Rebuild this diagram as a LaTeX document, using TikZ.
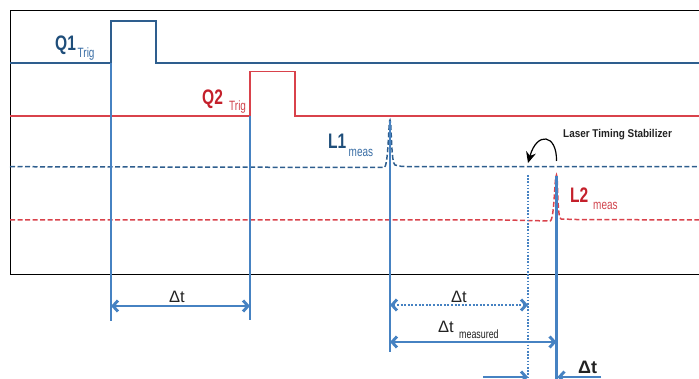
\documentclass[tikz,border=0pt]{standalone}
\usepackage{fontspec}
\setmainfont{Liberation Sans}
\newfontfamily\cond[FakeStretch=0.74]{Liberation Sans}
\newfontfamily\condb[FakeStretch=0.88]{Liberation Sans}
\usetikzlibrary{arrows.meta}
\definecolor{qblue}{HTML}{2E5E8E}
\definecolor{tblue}{HTML}{1F4E7A}
\definecolor{sblue}{HTML}{3A6EA5}
\definecolor{vblue}{HTML}{4682C2}
\definecolor{qred}{HTML}{D9424B}
\definecolor{tred}{HTML}{C4202B}
\definecolor{sred}{HTML}{D0434C}
\definecolor{dgray}{HTML}{222222}
\begin{document}
\begin{tikzpicture}[x=1pt,y=-1pt,
  frame/.style={draw=black,line width=0.9pt},
  qone/.style={draw=qblue,line width=1.6pt},
  qtwo/.style={draw=qred,line width=1.6pt},
  lone/.style={draw=qblue,line width=1.5pt,dash pattern=on 5pt off 2.5pt},
  ltwo/.style={draw=qred,line width=1.5pt,dash pattern=on 5pt off 2.5pt},
  vline/.style={draw=vblue,line width=2.1pt},
  vdot/.style={draw=vblue,line width=1.8pt,dash pattern=on 1.6pt off 1.6pt},
  barb/.tip={Straight Barb[length=5pt,width=11pt]},
  dimarr/.style={draw=vblue,line width=2.9pt,barb-barb},
  dimdot/.style={draw=vblue,line width=2.9pt,dash pattern=on 2pt off 1.6pt,barb-barb},
  onearr/.style={draw=vblue,line width=2.9pt,-barb},
  bigl/.style={anchor=base west,inner sep=0,font=\cond\bfseries\fontsize{21}{21}\selectfont},
  subl/.style={anchor=base west,inner sep=0,font=\cond\fontsize{13.5}{13.5}\selectfont},
  dtl/.style={anchor=base west,inner sep=0,text=dgray,font=\fontsize{16.5}{16.5}\selectfont},
  stab/.style={anchor=base west,inner sep=0,text=dgray,font=\condb\bfseries\fontsize{11.3}{11.3}\selectfont},
  curvarr/.style={draw=black,line width=1.2pt,-{Stealth[length=11pt,width=10pt]}}
]
\useasboundingbox (0,0) rectangle (699,379);
% frame
\coordinate (ftr) at (699,10);
\coordinate (ftl) at (10,10);
\coordinate (fbl) at (10,274);
\coordinate (fbr) at (699,274);
\draw[frame] (ftr) -- (ftl) -- (fbl) -- (fbr);

% key coordinates
\coordinate (v1t) at (111,63);   \coordinate (v1b) at (111,321);
\coordinate (v2t) at (250,116);  \coordinate (v2b) at (250,320);
\coordinate (v3t) at (390,121);  \coordinate (v3b) at (390,352);
\coordinate (v4t) at (528,175);  \coordinate (v4b) at (528,379);
\coordinate (v5t) at (556.5,176);\coordinate (v5b) at (556.5,379);

% signals
\draw[qone] (10,63) -- (111,63) -- (111,21) -- (156,21) -- (156,63) -- (699,63);
\draw[qtwo] (10,116) -- (250,116) -- (250,71.5) -- (295,71.5) -- (295,116) -- (699,116);
\draw[lone] (10,166.7) -- (384,167.5) .. controls (388.5,167.5) and (388.5,120) .. (390,120)
   .. controls (391.5,120) and (391,164) .. (395,165) -- (402,166.5) -- (699,166.7);
\draw[ltwo] (10,220) -- (505,220) -- (550,221) .. controls (554.5,221) and (554.5,175) .. (556.5,175)
   .. controls (558,175) and (557,218.5) .. (561,219) -- (576,219.5) -- (699,220);

% vertical markers
\draw[vline] (v1t) -- (v1b);
\draw[vline] (v2t) -- (v2b);
\draw[vline] (v3t) -- (v3b);
\draw[vdot] (v4t) -- (v4b);
\draw[vline] (v5t) -- (v5b);

% dimension arrows
\coordinate (d1a) at (111,306); \coordinate (d1b) at (250,306);
\coordinate (d2a) at (390,305); \coordinate (d2b) at (528,305);
\coordinate (d3a) at (390,342); \coordinate (d3b) at (556.5,342);
\coordinate (d4a) at (483,377); \coordinate (d4b) at (528,377);
\coordinate (d5a) at (601,377); \coordinate (d5b) at (557.5,377);
\draw[dimarr] (d1a) -- (d1b);
\draw[dimdot] (d2a) -- (d2b);
\draw[dimarr] (d3a) -- (d3b);
\draw[onearr] (d4a) -- (d4b);
\draw[onearr] (d5a) -- (d5b);

% labels
\node[bigl,text=tblue] (q1) at (55,50.5) {Q1};
\node[subl,text=sblue] (q1s) at (77.5,58) {Trig};
\node[bigl,text=tred] (q2) at (202,104.5) {Q2};
\node[subl,text=sred] (q2s) at (229,110.5) {Trig};
\node[bigl,text=tblue] (l1) at (328,149) {L1};
\node[subl,text=sblue] (l1s) at (348.5,157) {meas};
\node[bigl,text=tred] (l2) at (570,203) {L2};
\node[subl,text=sred] (l2s) at (593,210) {meas};
\node[stab] (lts) at (563,137.5) {Laser Timing Stabilizer};

\node[dtl] (dt1) at (169,303) {Δt};
\node[dtl] (dt2) at (451,303) {Δt};
\node[dtl] (dt3) at (438,333) {Δt};
\node[anchor=base west,inner sep=0,text=dgray,font=\cond\fontsize{12}{12}\selectfont] (dt3s) at (459,338.5) {measured};
\node[anchor=base west,inner sep=0,text=dgray,font=\bfseries\fontsize{18}{18}\selectfont] (dt4) at (578,373.5) {Δt};

% stabilizer arrow
\coordinate (ca) at (556.5,161);
\coordinate (cb) at (528,163);
\draw[curvarr] (ca) .. controls (557,134) and (537,131) .. (cb);
\end{tikzpicture}
\end{document}
